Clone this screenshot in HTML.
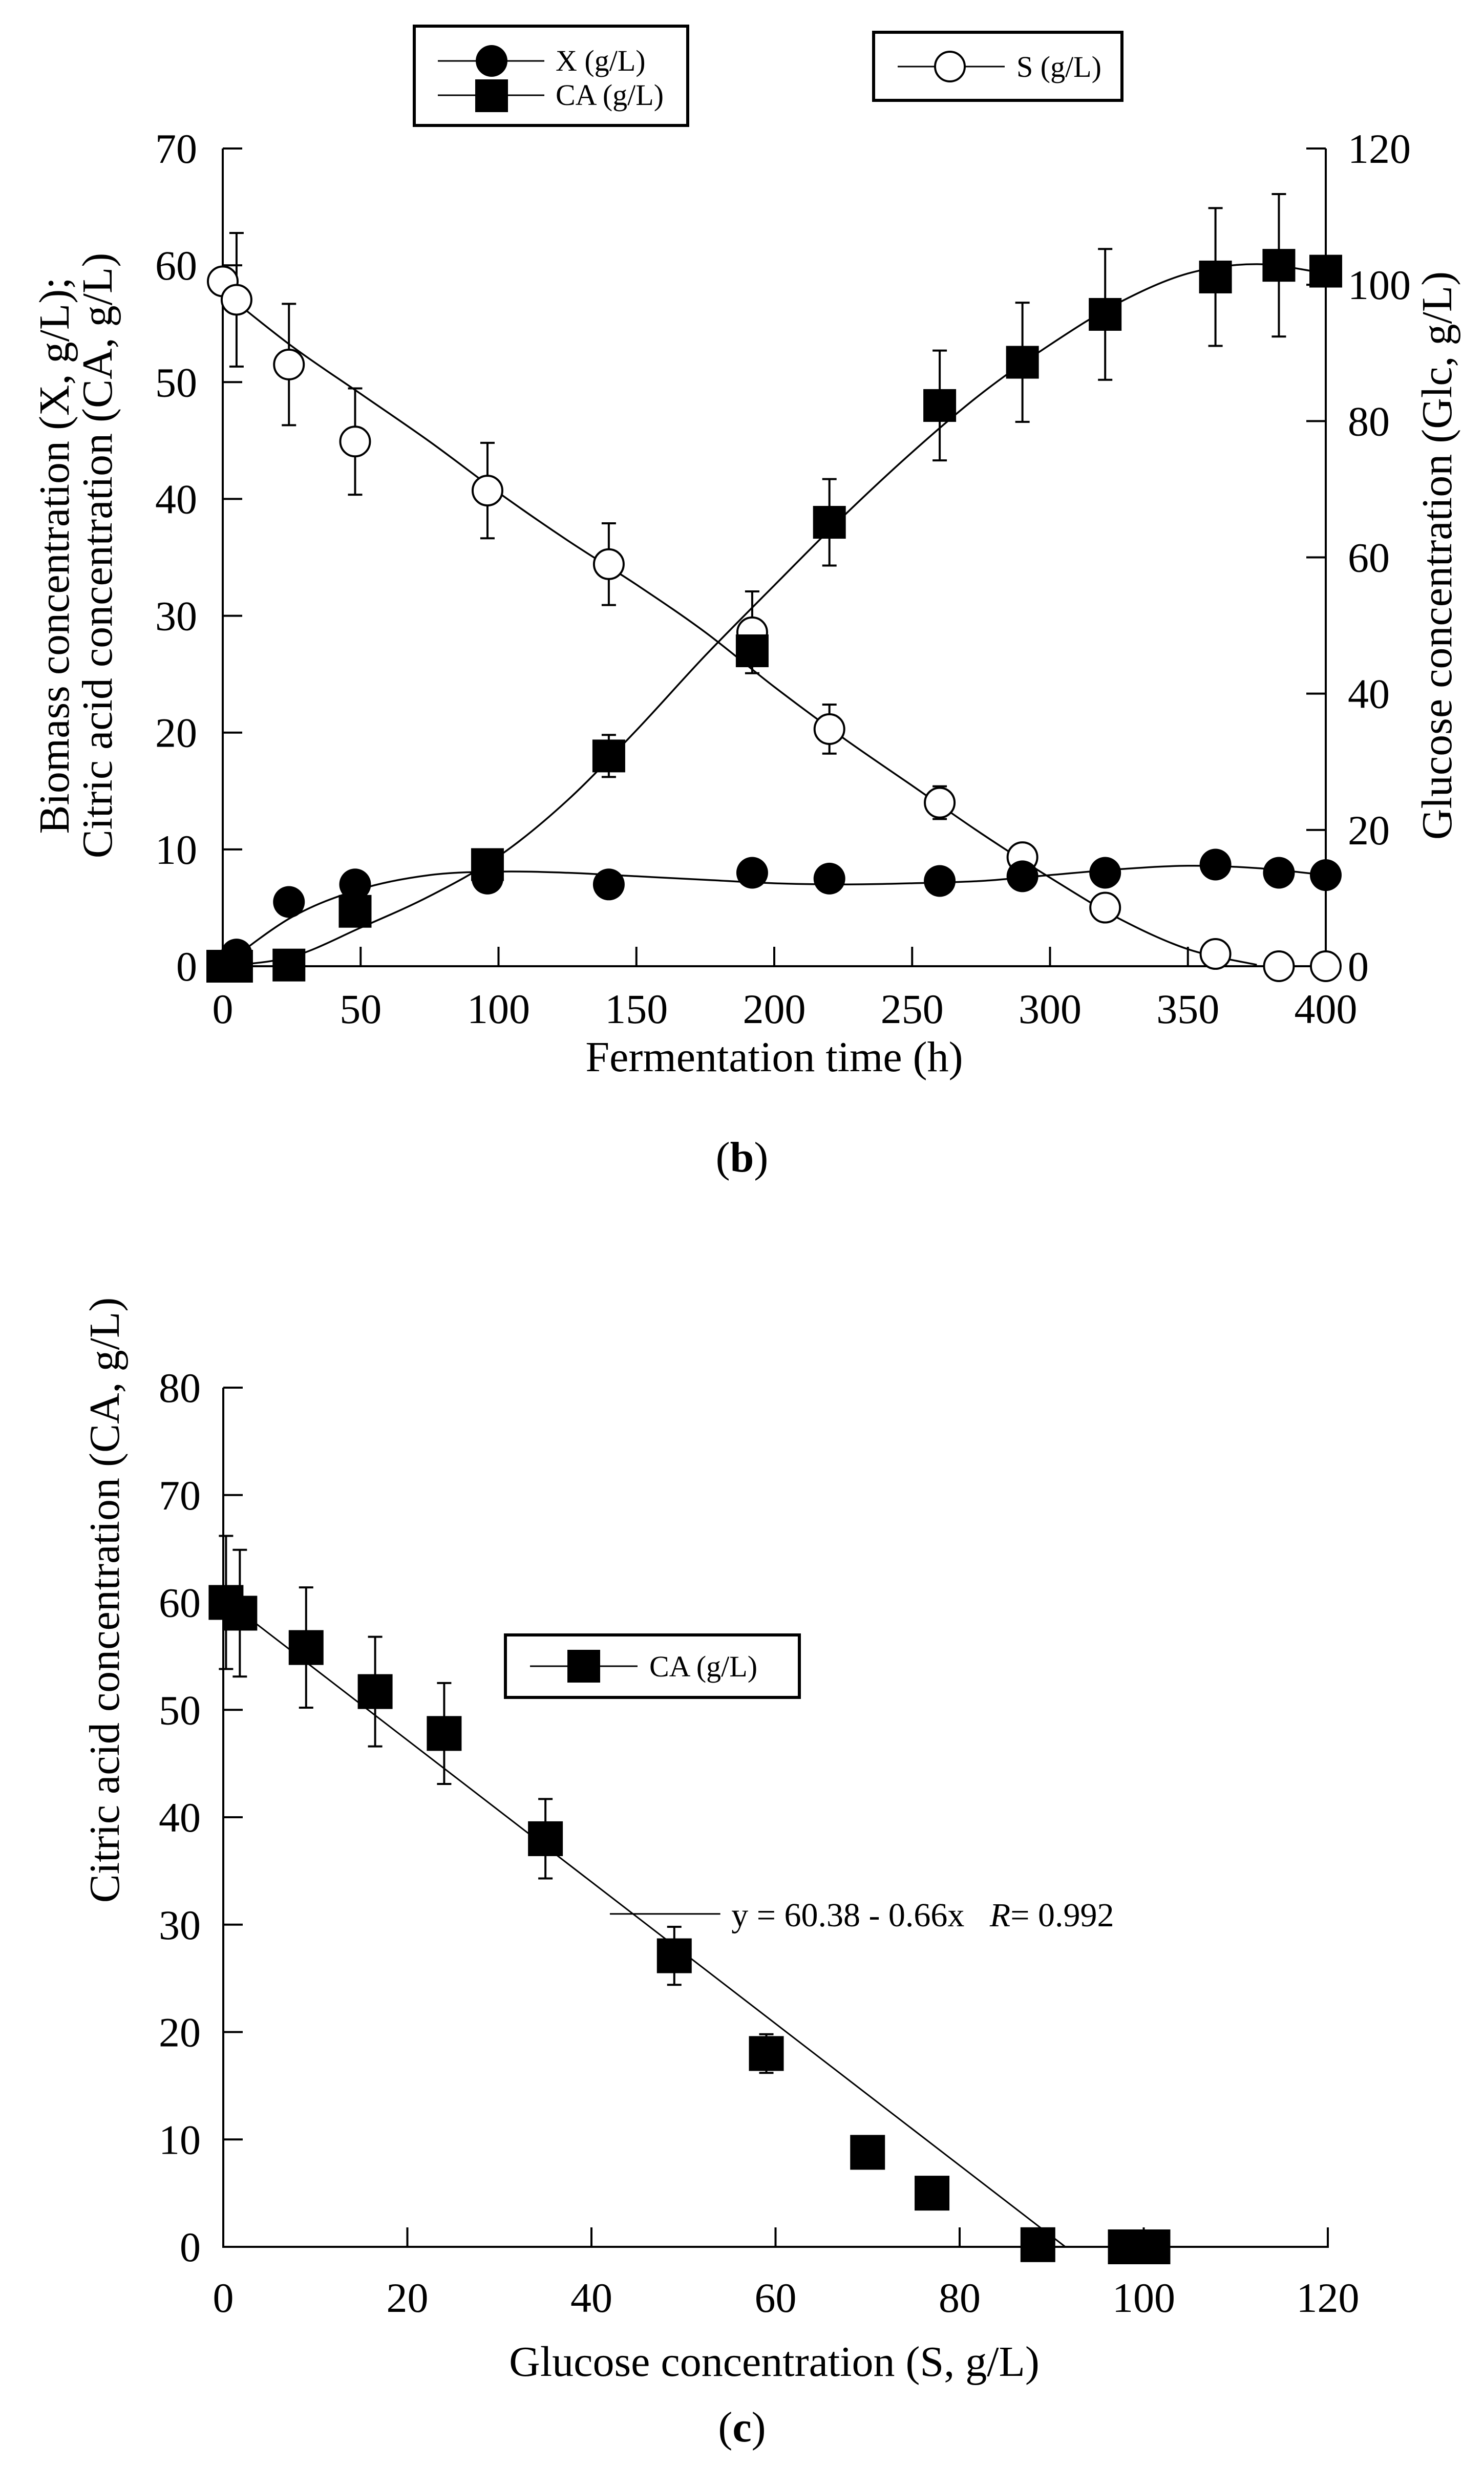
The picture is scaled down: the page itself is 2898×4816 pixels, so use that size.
<!DOCTYPE html>
<html><head><meta charset="utf-8"><title>Fermentation chart</title>
<style>
html,body{margin:0;padding:0;background:#fff;}
svg{display:block;font-family:"Liberation Serif","Times New Roman",serif;}
</style></head>
<body>
<svg id="fig" width="2898" height="4816" viewBox="0 0 2898 4816" xmlns="http://www.w3.org/2000/svg"></svg>
<script>
// ---------- Panel (b) data ----------
const timeX = [5, 24, 48, 96, 140, 192, 220, 260, 290, 320, 360, 383, 400];
const biomassX = [1.0, 5.5, 7.0, 7.5, 7.0, 8.0, 7.5, 7.3, 7.7, 8.0, 8.7, 8.0, 7.8];
const timeCA = [0, 5, 24, 48, 96, 140, 192, 220, 260, 290, 320, 360, 383, 400];
const citricCA = [0, 0, 0.1, 4.7, 8.7, 18, 27, 38, 48, 51.7, 55.8, 59, 60, 59.5];
const citricErr = [0, 0, 0, 0, 0, 1.8, 0, 3.7, 4.7, 5.1, 5.6, 5.9, 6.1, 0];
const timeS = [0, 5, 24, 48, 96, 140, 192, 220, 260, 290, 320, 360, 383, 400];
const glucoseS = [100.5, 97.8, 88.3, 77, 69.8, 59, 49, 34.8, 24, 16, 8.6, 1.8, 0, 0];
const glucoseErr = [0, 9.8, 8.9, 7.8, 7.0, 6.0, 6.0, 3.6, 2.4, 1.5, 0.9, 0.3, 0, 0];
// fitted curves
const fitT = [0, 25, 50, 75, 100, 125, 150, 175, 200, 225, 250, 275, 300, 325, 350, 375, 400];
const fitX = [0, 4.2, 6.6, 7.8, 8.1, 8.0, 7.7, 7.4, 7.1, 7.0, 7.1, 7.3, 7.8, 8.3, 8.6, 8.4, 7.8];
const fitCA = [0, 0.8, 3.3, 6.0, 9.4, 14.2, 20.2, 26.6, 32.6, 38.5, 44, 49, 53.2, 56.8, 59.3, 60.1, 59.3];
const fitS = [99, 91, 84, 77, 69.5, 62.5, 56, 49, 41, 33.5, 26.5, 19.5, 13, 7, 2.5, 0.2, 0];
const xTicksB = [0, 50, 100, 150, 200, 250, 300, 350, 400];
const yTicksBL = [0, 10, 20, 30, 40, 50, 60, 70];
const yTicksBR = [0, 20, 40, 60, 80, 100, 120];

// ---------- Panel (c) data ----------
const glcC = [0.3, 1.8, 9, 16.5, 24, 35, 49, 59, 70, 77, 88.5, 98, 99.5, 101];
const caC = [60, 59, 55.8, 51.7, 47.8, 38, 27.1, 18, 8.8, 5, 0.2, 0, 0, 0];
const caErrC = [6.2, 5.9, 5.6, 5.1, 4.7, 3.7, 2.7, 1.8, 0, 0, 0, 0, 0, 0];
const regIntercept = [60.38];
const regSlope = [-0.66];
const xTicksC = [0, 20, 40, 60, 80, 100, 120];
const yTicksC = [0, 10, 20, 30, 40, 50, 60, 70, 80];

const NS = "http://www.w3.org/2000/svg";
const svg = document.getElementById('fig');
function mk(tag, attrs, parent) {
  const e = document.createElementNS(NS, tag);
  for (const k in attrs) e.setAttribute(k, attrs[k]);
  (parent || svg).appendChild(e);
  return e;
}
function txt(str, x, y, size, anchor, parent, extra) {
  const t = mk('text', Object.assign({x: x, y: y, 'font-size': size, 'text-anchor': anchor || 'middle', fill: '#000'}, extra || {}), parent);
  t.textContent = str;
  return t;
}
function smoothPath(xs, ys, fx, fy) {
  const p = xs.map((x, i) => [fx(x), fy(ys[i])]);
  let d = 'M' + p[0][0].toFixed(1) + ',' + p[0][1].toFixed(1);
  for (let i = 0; i < p.length - 1; i++) {
    const p0 = p[Math.max(0, i - 1)], p1 = p[i], p2 = p[i + 1], p3 = p[Math.min(p.length - 1, i + 2)];
    const c1 = [p1[0] + (p2[0] - p0[0]) / 6, p1[1] + (p2[1] - p0[1]) / 6];
    const c2 = [p2[0] - (p3[0] - p1[0]) / 6, p2[1] - (p3[1] - p1[1]) / 6];
    d += ' C' + c1[0].toFixed(1) + ',' + c1[1].toFixed(1) + ' ' + c2[0].toFixed(1) + ',' + c2[1].toFixed(1) + ' ' + p2[0].toFixed(1) + ',' + p2[1].toFixed(1);
  }
  return d;
}

// ===== Panel b =====
const bx = v => 435 + (v / 400) * (2589 - 435);
const byL = v => 1887 - (v / 70) * (1887 - 290);
const byR = v => 1887 - (v / 120) * (1887 - 290);

const gB = mk('g', {});



const axB = mk('g', {stroke: '#000', 'stroke-width': 4, fill: 'none'}, gB);


mk('line', {x1: 435, y1: 290, x2: 435, y2: 1889}, axB);
mk('line', {x1: 433, y1: 1887, x2: 2591, y2: 1887}, axB);
mk('line', {x1: 2589, y1: 290, x2: 2589, y2: 1889}, axB);
xTicksB.forEach(v => {
  if (v > 0 && v < 400) mk('line', {x1: bx(v), y1: 1887, x2: bx(v), y2: 1849}, axB);
  const t = txt(String(v), bx(v), 1998, 82, 'middle', gB);
  
  
});
yTicksBL.forEach(v => {
  mk('line', {x1: 435, y1: byL(v), x2: 473, y2: byL(v)}, axB);
  const t = txt(String(v), 385, byL(v) + 28, 82, 'end', gB);
  
  
});
yTicksBR.forEach(v => {
  mk('line', {x1: 2551, y1: byR(v), x2: 2589, y2: byR(v)}, axB);
  const t = txt(String(v), 2632, byR(v) + 28, 82, 'start', gB);
  
  
});

const cX = mk('path', {d: smoothPath(fitT, fitX, bx, byL), fill: 'none', stroke: '#000', 'stroke-width': 3.5}, gB);


const cCA = mk('path', {d: smoothPath(fitT, fitCA, bx, byL), fill: 'none', stroke: '#000', 'stroke-width': 3.5}, gB);


const fitS2 = fitS.slice(0, 16), fitT2 = fitT.slice(0, 16);
const cS = mk('path', {d: smoothPath(fitT2, fitS2, bx, byR), fill: 'none', stroke: '#000', 'stroke-width': 3.5}, gB);



function errBar(parent, x, y0, y1, name) {
  const g = mk('g', {stroke: '#000', 'stroke-width': 4}, parent);
  
  
  mk('line', {x1: x, y1: y0, x2: x, y2: y1}, g);
  mk('line', {x1: x - 14, y1: y0, x2: x + 14, y2: y0}, g);
  mk('line', {x1: x - 14, y1: y1, x2: x + 14, y2: y1}, g);
}
timeS.forEach((t, i) => {
  if (glucoseErr[i] > 0) errBar(gB, bx(t), byR(glucoseS[i] + glucoseErr[i]), byR(glucoseS[i] - glucoseErr[i]), 'glucose-error-bar');
});
timeCA.forEach((t, i) => {
  if (citricErr[i] > 0) errBar(gB, bx(t), byL(citricCA[i] + citricErr[i]), byL(citricCA[i] - citricErr[i]), 'citric-acid-error-bar');
});
timeS.forEach((t, i) => {
  const c = mk('circle', {cx: bx(t), cy: byR(glucoseS[i]), r: 29, fill: '#fff', stroke: '#000', 'stroke-width': 4}, gB);
  
  
});
timeCA.forEach((t, i) => {
  const r = mk('rect', {x: bx(t) - 32, y: byL(citricCA[i]) - 32, width: 64, height: 64, fill: '#000'}, gB);
  
  
});
timeX.forEach((t, i) => {
  const c = mk('circle', {cx: bx(t), cy: byL(biomassX[i]), r: 31, fill: '#000'}, gB);
  
  
});

let t1 = txt('Fermentation time (h)', 1512, 2092, 84, 'middle', gB);


let t2 = txt('Biomass concentration (X, g/L);', 0, 0, 84, 'middle', gB, {transform: 'translate(134,1085) rotate(-90)'});


let t3 = txt('Citric acid concentration (CA, g/L)', 0, 0, 84, 'middle', gB, {transform: 'translate(218,1085) rotate(-90)'});


let t4 = txt('Glucose concentration (Glc, g/L)', 0, 0, 84, 'middle', gB, {transform: 'translate(2834,1085) rotate(-90)'});


let pb = mk('text', {x: 1449, y: 2288, 'font-size': 84, 'text-anchor': 'middle'}, svg);


pb.innerHTML = '(<tspan font-weight="bold">b</tspan>)';

// legends panel b
const lg1 = mk('g', {}, svg);


mk('rect', {x: 809, y: 51, width: 534, height: 194, fill: '#fff', stroke: '#000', 'stroke-width': 6}, lg1);
mk('line', {x1: 855, y1: 119, x2: 1063, y2: 119, stroke: '#000', 'stroke-width': 3}, lg1);
mk('circle', {cx: 960, cy: 119, r: 31, fill: '#000'}, lg1);
mk('line', {x1: 855, y1: 186, x2: 1063, y2: 186, stroke: '#000', 'stroke-width': 3}, lg1);
mk('rect', {x: 928, y: 155, width: 64, height: 64, fill: '#000'}, lg1);
let le1 = txt('X (g/L)', 1085, 138, 58, 'start', lg1);


let le2 = txt('CA (g/L)', 1085, 205, 58, 'start', lg1);



const lg2 = mk('g', {}, svg);


mk('rect', {x: 1706, y: 63, width: 485, height: 133, fill: '#fff', stroke: '#000', 'stroke-width': 6}, lg2);
mk('line', {x1: 1753, y1: 130, x2: 1962, y2: 130, stroke: '#000', 'stroke-width': 3}, lg2);
mk('circle', {cx: 1855, cy: 130, r: 29, fill: '#fff', stroke: '#000', 'stroke-width': 4}, lg2);
let le3 = txt('S (g/L)', 1985, 150, 58, 'start', lg2);



// ===== Panel c =====
const cx_ = v => 436 + (v / 120) * (2593 - 436);
const cy_ = v => 4388 - (v / 80) * (4388 - 2710);
const gC = mk('g', {});


const axC = mk('g', {stroke: '#000', 'stroke-width': 4}, gC);


mk('line', {x1: 436, y1: 2710, x2: 436, y2: 4390}, axC);
mk('line', {x1: 434, y1: 4388, x2: 2595, y2: 4388}, axC);
xTicksC.forEach(v => {
  if (v > 0) mk('line', {x1: cx_(v), y1: 4388, x2: cx_(v), y2: 4350}, axC);
  const t = txt(String(v), cx_(v), 4515, 82, 'middle', gC);
  
  
});
yTicksC.forEach(v => {
  mk('line', {x1: 436, y1: cy_(v), x2: 474, y2: cy_(v)}, axC);
  const t = txt(String(v), 392, cy_(v) + 28, 82, 'end', gC);
  
  
});
const xEnd = -regIntercept[0] / regSlope[0];
const rl = mk('line', {x1: cx_(0), y1: cy_(regIntercept[0]), x2: cx_(xEnd), y2: cy_(0), stroke: '#000', 'stroke-width': 3}, gC);


const ld = mk('line', {x1: cx_(42), y1: cy_(31), x2: cx_(54), y2: cy_(31), stroke: '#000', 'stroke-width': 3}, gC);


const eq = mk('text', {x: cx_(55.2), y: cy_(31) + 24, 'font-size': 66, 'text-anchor': 'start'}, gC);


eq.innerHTML = 'y = 60.38 - 0.66x \u00a0\u00a0<tspan font-style="italic">R</tspan>= 0.992';
glcC.forEach((s, i) => {
  if (caErrC[i] > 0) errBar(gC, cx_(s), cy_(caC[i] + caErrC[i]), cy_(caC[i] - caErrC[i]), 'citric-acid-error-bar');
});
glcC.forEach((s, i) => {
  const r = mk('rect', {x: cx_(s) - 34, y: cy_(caC[i]) - 34, width: 68, height: 68, fill: '#000'}, gC);
  
  
});
const lg3 = mk('g', {}, svg);


mk('rect', {x: 987, y: 3193, width: 574, height: 122, fill: '#fff', stroke: '#000', 'stroke-width': 6}, lg3);
mk('line', {x1: 1035, y1: 3254, x2: 1245, y2: 3254, stroke: '#000', 'stroke-width': 3}, lg3);
mk('rect', {x: 1108, y: 3222, width: 64, height: 64, fill: '#000'}, lg3);
let le4 = txt('CA (g/L)', 1268, 3274, 58, 'start', lg3);



let t5 = txt('Glucose concentration (S, g/L)', 1512, 4640, 84, 'middle', gC);


let t6 = txt('Citric acid concentration (CA, g/L)', 0, 0, 84, 'middle', gC, {transform: 'translate(232,3125) rotate(-90)'});


let pc = mk('text', {x: 1449, y: 4768, 'font-size': 84, 'text-anchor': 'middle'}, svg);


pc.innerHTML = '(<tspan font-weight="bold">c</tspan>)';
</script>
</body></html>
